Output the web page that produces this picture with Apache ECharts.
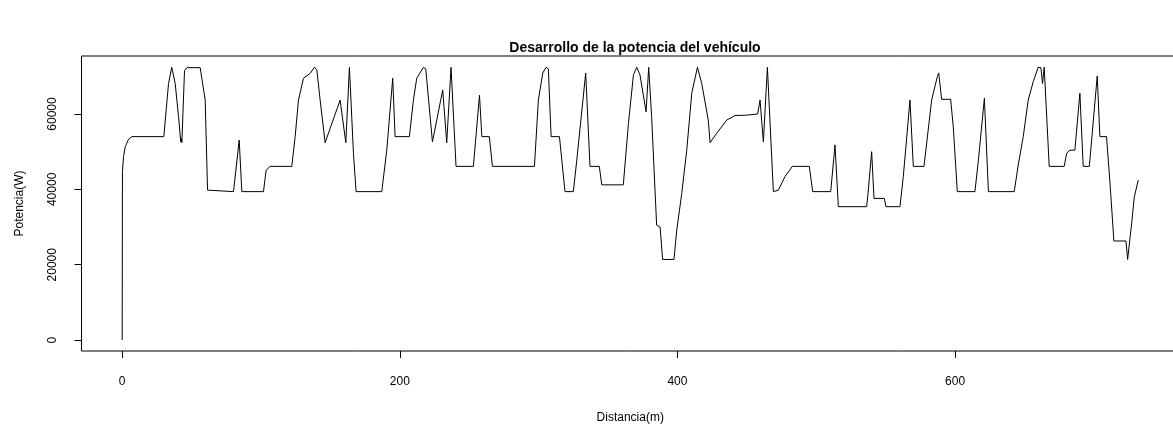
<!DOCTYPE html>
<html>
<head>
<meta charset="utf-8">
<script src="https://cdn.jsdelivr.net/npm/echarts@6/dist/echarts.min.js"></script>
<style>html,body{margin:0;padding:0;background:#fff}#c{width:1173px;height:430px}</style>
</head>
<body>
<div id="c"></div>
<script>
const titleText = 'Desarrollo de la potencia del vehículo';
const xName = 'Distancia(m)';
const yName = 'Potencia(W)';
const xTicks = [0, 200, 400, 600];
const yTicks = [0, 20000, 40000, 60000];

const distancia = [0,0.2,1,2.2,4.6,7,30,33.4,35.7,38.2,40.6,42.2,42.5,43,44.9,46.6,56.2,57.4,59.8,61.5,62.2,80.2,84.3,86.2,101.8,103.7,106.6,122.2,
124.6,127,130.6,135.4,138.5,140.2,142.6,146.2,157,161.1,163.7,166.6,168.5,187,190.6,194.9,196.6,206.9,209.8,212.2,217,218.7,223.5,230.9,233.8,236.9,240.5,253,257.4,259.1,264.5,266.7,297,299.8,303,305.4,307,309,315,316.7,319,325,327.5,333.9,337,343.7,345.5,361,364.7,368.3,370.7,373,377.4,379.3,381.4,385,387.5,389.3,397.5,399.5,403.1,406.7,410.3,414.4,417.5,422.2,423.5,428.3,435.5,441.5,449.9,457.8,459.5,461.9,464.8,469.1,472.7,477.5,482.8,495,497.4,510.4,513.5,515.9,536.3,537.5,539.9,541.6,549,550.2,560.3,562.7,567.5,569.9,577.6,583.1,587.2,588.2,590.3,596.8,598.7,601.6,614.3,616.8,621.1,624,642.6,645.5,649.1,652.7,656.3,659.9,661.8,663,664.2,667.8,678.6,680.4,682.7,686.3,689.9,692.3,696.7,702.4,704.3,709.1,711.6,714.4,723.1,724.3,725.5,727.2,729.1,732];

const potencia = [0,44700,48700,51300,53300,54000,54000,68100,72400,68100,59300,52600,53500,52400,71500,72300,72300,71800,63700,39800,39400,39400,53100,39400,39400,45100,46100,46100,
54000,63700,69500,70800,72400,71800,63700,52400,63700,52400,72400,49600,39400,39400,50400,69500,54000,54000,63700,69500,72400,72000,52600,66400,52400,72400,46100,46100,65000,54000,54000,46100,46100,63700,70900,72400,72000,54000,54000,47800,39400,39400,47800,70900,46100,46100,41200,41200,57500,70400,72400,70400,60600,72400,59300,30500,30000,21400,21400,29200,38900,50400,65500,72400,68100,58400,52400,54900,58400,59600,59700,60000,63700,52600,72400,39400,39800,43400,46100,46100,39400,39400,51800,35400,35400,39800,50000,37600,37600,35400,35400,43400,63700,46100,46100,63700,69900,70900,63900,63900,56600,39400,39400,47800,64200,39400,39400,46500,54000,63700,68600,72400,72300,68100,72400,46100,46100,49600,50400,50400,65500,46100,46100,70100,54000,54000,41600,26300,26300,21400,21400,31000,38000,42500];

const seriesData = distancia.map((d, i) => [d, potencia[i]]);
const font = '"Liberation Sans", Arial, Helvetica, sans-serif';

const chart = echarts.init(document.getElementById('c'), null, {renderer: 'canvas'});
chart.setOption({
  animation: false,
  backgroundColor: '#fff',
  title: {
    text: titleText,
    left: 630,
    top: 36,
    textAlign: 'center',
    textStyle: {fontFamily: font, fontSize: 14, fontWeight: 'bold', color: '#000'}
  },
  grid: {
    left: 81.5, top: 56, width: 1097.5, height: 295,
    show: true, borderColor: '#000', borderWidth: 1, backgroundColor: 'transparent',
    outerBoundsMode: 'none', containLabel: false
  },
  xAxis: {
    type: 'value', min: -29.3, max: 761.3,
    name: xName, nameLocation: 'middle', nameGap: 61,
    nameTextStyle: {fontFamily: font, fontSize: 12, color: '#000'},
    axisLine: {show: false, onZero: false},
    axisTick: {show: true, inside: false, length: 7, lineStyle: {color: '#000'}, customValues: xTicks},
    axisLabel: {show: true, margin: 25, fontFamily: font, fontSize: 12, color: '#000', customValues: xTicks, formatter: v => String(v)},
    splitLine: {show: false}
  },
  yAxis: {
    type: 'value', min: -2900, max: 75400,
    name: yName, nameLocation: 'middle', nameGap: 56, nameRotate: 90,
    nameTextStyle: {fontFamily: font, fontSize: 12, color: '#000'},
    axisLine: {show: false, onZero: false},
    axisTick: {show: true, inside: false, length: 7, lineStyle: {color: '#000'}, customValues: yTicks},
    axisLabel: {show: true, rotate: 90, margin: 23, fontFamily: font, fontSize: 12, color: '#000', customValues: yTicks, formatter: v => String(v)},
    splitLine: {show: false}
  },
  series: [{
    type: 'line',
    data: seriesData,
    showSymbol: false,
    symbol: 'none',
    lineStyle: {color: '#000', width: 1},
    clip: true
  }]
});
</script>
</body>
</html>
